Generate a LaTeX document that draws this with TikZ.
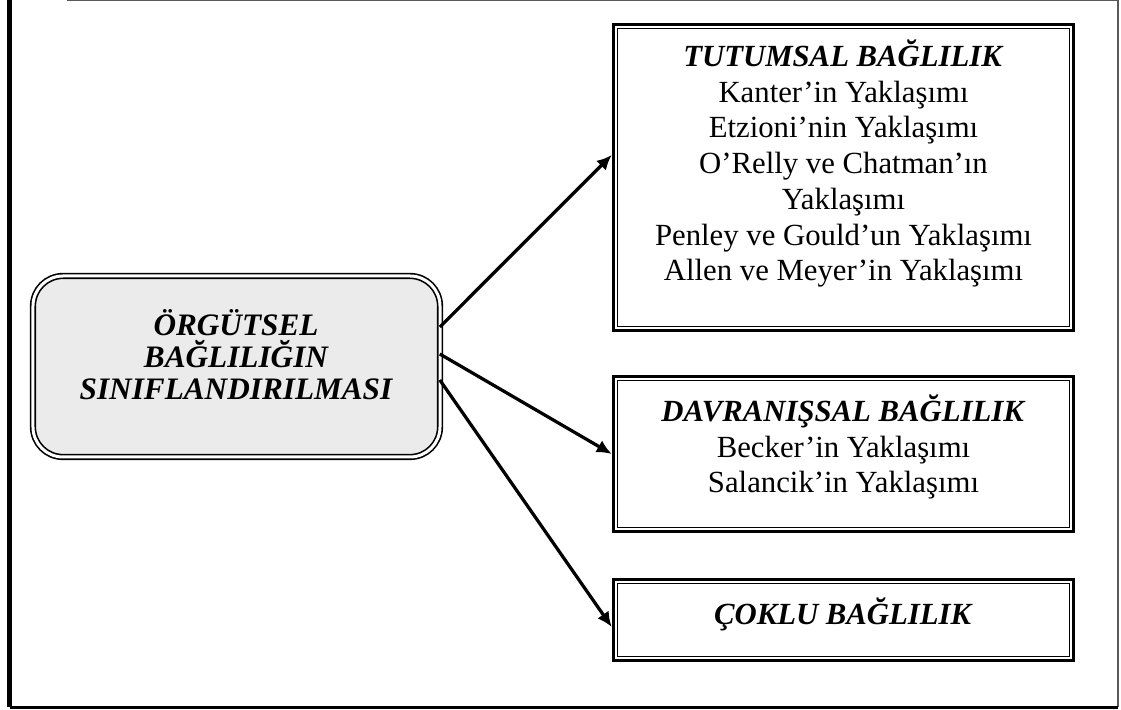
\documentclass[tikz,border=0pt]{standalone}
\usepackage{fontspec}
\setmainfont{Liberation Serif}
\usetikzlibrary{arrows.meta, calc}

\begin{document}
\begin{tikzpicture}[
    x=0.4pt, y=-0.4pt,
    every node/.style={font=\fontsize{12.3pt}{14.3pt}\selectfont},
    boxframe/.style={draw, line width=1.4pt, minimum width=184pt, inner sep=0pt},
    innerframe/.style={line width=0.6pt},
    roundbox/.style={draw, double, double distance=1.2pt, line width=0.65pt,
        rounded corners=12pt, fill=gray!16, minimum width=162.8pt, minimum height=72.4pt, inner sep=0pt},
    txt/.style={align=center, inner sep=0pt},
    bigtxt/.style={align=center, inner sep=0pt, font=\fontsize{12.5pt}{12.8pt}\selectfont\bfseries\itshape},
    arr/.style={line width=1.3pt, -{Latex[length=6pt, width=5.5pt]}},
]
\useasboundingbox (0,0) rectangle (1121,710);

% page frame
\draw[gray!70!black, line width=0.6pt] (67,0.7) -- (1118,0.7) -- (1118,707);
\draw[line width=2pt] (9.8,0) -- (9.8,707.5);
\draw[line width=1.3pt] (9.8,707.5) -- (1118,707.5);

% left box
\node[roundbox] (org) at (236.5,366.5) {};
\node[bigtxt, anchor=base] (org-text) at (236,400) {ÖRGÜTSEL\\ BAĞLILIĞIN\\ SINIFLANDIRILMASI};

% right boxes
\node[boxframe, minimum height=122.4pt] (tut) at (843.5,177.5) {};
\node[boxframe, minimum height=62pt] (dav) at (843.5,454) {};
\node[boxframe, minimum height=32.4pt] (cok) at (843.5,620) {};
\foreach \n in {tut,dav,cok}{
    \draw[innerframe] ([shift={(2.3pt,-2.3pt)}]\n.north west) rectangle ([shift={(-2.3pt,2.3pt)}]\n.south east);
}

\node[txt, anchor=base] (tut-text) at (843.5,281)
    {\textbf{\textit{TUTUMSAL BAĞLILIK}}\\ Kanter’in Yaklaşımı\\ Etzioni’nin Yaklaşımı\\
     O’Relly ve Chatman’ın\\ Yaklaşımı\\ Penley ve Gould’un Yaklaşımı\\ Allen ve Meyer’in Yaklaşımı};
\node[txt, anchor=base] (dav-text) at (843.5,493)
    {\textbf{\textit{DAVRANIŞSAL BAĞLILIK}}\\ Becker’in Yaklaşımı\\ Salancik’in Yaklaşımı};
\node[txt, anchor=base] (cok-text) at (843.5,625) {\textbf{\textit{ÇOKLU BAĞLILIK}}};

% arrows
\draw[arr] ($(org.east)+(-1,-39.5)$) -- ($(tut.west)+(0,-22.5)$);
\draw[arr] ($(org.east)+(-1,-12.5)$) -- (dav.west);
\draw[arr] ($(org.east)+(-1,13.5)$) -- ($(cok.west)+(0,7)$);
\end{tikzpicture}
\end{document}
